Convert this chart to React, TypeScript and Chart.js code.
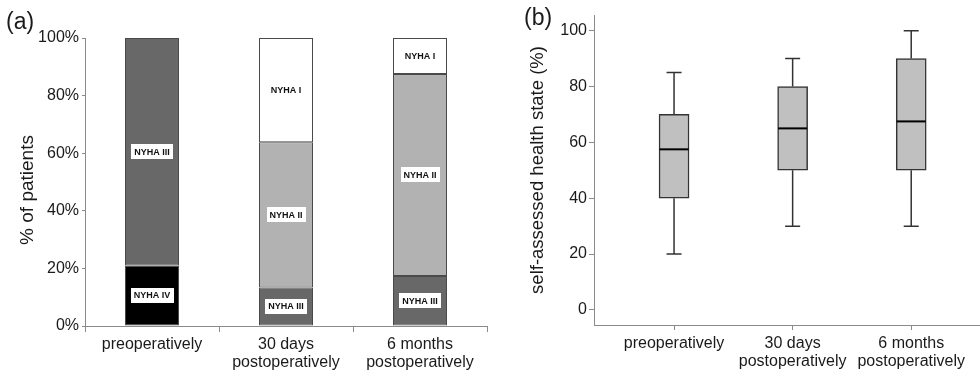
import React, { useEffect, useRef } from 'react';
import { Chart, registerables } from 'chart.js';

Chart.register(...registerables);

const FONT = '"Liberation Sans", Arial, Helvetica, sans-serif';
const TEXT = '#1a1a1a';
const AXIS = '#8a8a8a';

// ---- Panel (a): NYHA class distribution ----
const stageLabels = ['preoperatively', ['30 days', 'postoperatively'], ['6 months', 'postoperatively']];
const nyhaIV = [21, null, null];
const nyhaIII = [79, 13.4, 17.4];
const nyhaII = [null, 50.4, 70.1];
const nyhaI = [null, 36.2, 12.5];
const percentTicks = [0, 20, 40, 60, 80, 100];

// ---- Panel (b): self-assessed health state box plots ----
const boxLabels = ['preoperatively', ['30 days', 'postoperatively'], ['6 months', 'postoperatively']];
const boxMin = [20, 30, 30];
const boxQ1 = [40, 50, 50];
const boxMedian = [57.5, 65, 67.5];
const boxQ3 = [70, 80, 90];
const boxMax = [85, 90, 100];
const healthTicks = [0, 20, 40, 60, 80, 100];

const segmentLabelPlugin = {
  id: 'segmentLabels',
  afterDatasetsDraw(chart: any) {
    const ctx = chart.ctx;
    ctx.save();
    ctx.font = `bold 9px ${FONT}`;
    ctx.textAlign = 'center';
    ctx.textBaseline = 'middle';
    chart.data.datasets.forEach((ds: any, di: number) => {
      const meta = chart.getDatasetMeta(di);
      meta.data.forEach((bar: any, i: number) => {
        const v = ds.data[i];
        if (v == null) return;
        const { x, y, base } = bar.getProps(['x', 'y', 'base'], true);
        const cy = (y + base) / 2;
        const text = ds.label;
        const w = Math.round(ctx.measureText(text).width + 6);
        const h = 15;
        ctx.fillStyle = '#ffffff';
        ctx.fillRect(Math.round(x - w / 2), Math.round(cy - h / 2), w, h);
        ctx.fillStyle = '#111111';
        ctx.fillText(text, x, cy + 0.5);
      });
    });
    ctx.restore();
  },
};

// draws the y-axis title of panel (a) slightly below the axis centre, as in the reference
const leftTitlePlugin = {
  id: 'leftTitle',
  afterDraw(chart: any) {
    const ctx = chart.ctx;
    const area = chart.chartArea;
    ctx.save();
    ctx.font = `19px ${FONT}`;
    ctx.fillStyle = TEXT;
    ctx.textAlign = 'center';
    ctx.textBaseline = 'middle';
    ctx.translate(28, (area.top + area.bottom) / 2 + 8);
    ctx.rotate(-Math.PI / 2);
    ctx.fillText('% of patients', 0, 0);
    ctx.restore();
  },
};

const boxPlotPlugin = {
  id: 'boxWhiskers',
  beforeDatasetsDraw(chart: any) {
    const ctx = chart.ctx;
    const xs = chart.scales.x;
    const ys = chart.scales.y;
    ctx.save();
    ctx.strokeStyle = '#333333';
    ctx.lineWidth = 1.5;
    boxMin.forEach((mn, i) => {
      const x = xs.getPixelForValue(i);
      const capHalf = 7.5;
      const yMin = ys.getPixelForValue(mn);
      const yMax = ys.getPixelForValue(boxMax[i]);
      const yQ1 = ys.getPixelForValue(boxQ1[i]);
      const yQ3 = ys.getPixelForValue(boxQ3[i]);
      ctx.beginPath();
      ctx.moveTo(x, yMax);
      ctx.lineTo(x, yQ3);
      ctx.moveTo(x, yQ1);
      ctx.lineTo(x, yMin);
      ctx.moveTo(x - capHalf, yMax);
      ctx.lineTo(x + capHalf, yMax);
      ctx.moveTo(x - capHalf, yMin);
      ctx.lineTo(x + capHalf, yMin);
      ctx.stroke();
    });
    ctx.restore();
  },
  afterDatasetsDraw(chart: any) {
    const ctx = chart.ctx;
    const xs = chart.scales.x;
    const ys = chart.scales.y;
    ctx.save();
    ctx.strokeStyle = '#000000';
    ctx.lineWidth = 2;
    boxMedian.forEach((md, i) => {
      const x = xs.getPixelForValue(i);
      const y = ys.getPixelForValue(md);
      ctx.beginPath();
      ctx.moveTo(x - 14.5, y);
      ctx.lineTo(x + 14.5, y);
      ctx.stroke();
    });
    ctx.restore();
  },
};

function NyhaChart() {
  const ref = useRef<HTMLCanvasElement>(null);
  useEffect(() => {
    const mk = (label: string, data: (number | null)[], color: string) => ({
      label,
      data,
      backgroundColor: color,
      borderColor: '#4a4a4a',
      borderWidth: 1,
      borderSkipped: false,
      categoryPercentage: 1,
      barPercentage: 0.403,
    });
    const chart = new Chart(ref.current as HTMLCanvasElement, {
      type: 'bar',
      data: {
        labels: stageLabels as any,
        datasets: [
          mk('NYHA IV', nyhaIV, '#000000'),
          mk('NYHA III', nyhaIII, '#686868'),
          mk('NYHA II', nyhaII, '#b2b2b2'),
          mk('NYHA I', nyhaI, '#ffffff'),
        ] as any,
      },
      options: {
        animation: false,
        responsive: false,
        devicePixelRatio: 1,
        layout: { padding: { top: 38, right: 13, bottom: 0, left: 0 } },
        plugins: { legend: { display: false }, tooltip: { enabled: false } },
        scales: {
          x: {
            stacked: true,
            grid: { display: true, drawOnChartArea: false, offset: true, tickLength: 6, color: AXIS },
            border: { display: true, color: AXIS, width: 1 },
            ticks: { font: { family: FONT, size: 16, lineHeight: 1.15 }, color: TEXT, padding: 3, maxRotation: 0, autoSkip: false },
            afterFit: (s: any) => { s.height = 48; },
          },
          y: {
            stacked: true,
            min: 0,
            max: 100,
            afterBuildTicks: (s: any) => { s.ticks = percentTicks.map((v) => ({ value: v })); },
            grid: { display: true, drawOnChartArea: false, tickLength: 3, color: AXIS },
            border: { display: true, color: AXIS, width: 1 },
            ticks: { font: { family: FONT, size: 16 }, color: TEXT, padding: 3, callback: (v: any) => `${v}%` },
            afterFit: (s: any) => { s.width = 85; },
          },
        },
      } as any,
      plugins: [segmentLabelPlugin, leftTitlePlugin],
    });
    return () => chart.destroy();
  }, []);
  return <canvas ref={ref} width={500} height={374} style={{ width: 500, height: 374, display: 'block' }} />;
}

function HealthChart() {
  const ref = useRef<HTMLCanvasElement>(null);
  useEffect(() => {
    const chart = new Chart(ref.current as HTMLCanvasElement, {
      type: 'bar',
      data: {
        datasets: [
          {
            label: 'self-assessed health state',
            data: boxQ1.map((q, i) => ({ x: i, y: [q, boxQ3[i]] })),
            backgroundColor: '#c0c0c0',
            borderColor: '#333333',
            borderWidth: 1.5,
            borderSkipped: false,
            barThickness: 30,
          },
        ] as any,
      },
      options: {
        animation: false,
        responsive: false,
        devicePixelRatio: 1,
        layout: { padding: { top: 15, right: 0, bottom: 0, left: 0 } },
        plugins: { legend: { display: false }, tooltip: { enabled: false } },
        scales: {
          x: {
            type: 'linear',
            offset: false,
            min: -0.675,
            max: 2.58,
            afterBuildTicks: (s: any) => { s.ticks = boxLabels.map((_, i) => ({ value: i })); },
            grid: { display: true, drawOnChartArea: false, offset: false, tickLength: 5, color: AXIS },
            border: { display: true, color: AXIS, width: 1 },
            ticks: {
              font: { family: FONT, size: 16, lineHeight: 1.15 },
              color: TEXT,
              padding: 4,
              maxRotation: 0,
              autoSkip: false,
              callback: (_v: any, idx: number) => boxLabels[idx],
            },
            afterFit: (s: any) => { s.height = 49; },
          },
          y: {
            min: -5.4,
            max: 105.6,
            afterBuildTicks: (s: any) => { s.ticks = healthTicks.map((v) => ({ value: v })); },
            grid: { display: true, drawOnChartArea: false, tickLength: 5, color: AXIS },
            border: { display: true, color: AXIS, width: 1 },
            ticks: { font: { family: FONT, size: 16 }, color: TEXT, padding: 2 },
            title: { display: true, text: 'self-assessed health state (%)', font: { family: FONT, size: 18.5 }, color: TEXT, padding: { top: 27, bottom: 0 } },
            afterFit: (s: any) => { s.width = 94; },
          },
        },
      } as any,
      plugins: [boxPlotPlugin],
    });
    return () => chart.destroy();
  }, []);
  return <canvas ref={ref} width={480} height={374} style={{ width: 480, height: 374, display: 'block' }} />;
}

export default function App() {
  const panelLabel: React.CSSProperties = {
    position: 'absolute',
    fontFamily: FONT,
    fontSize: 23,
    lineHeight: '23px',
    color: TEXT,
    margin: 0,
  };
  return (
    <div style={{ position: 'absolute', left: 0, top: 0, width: 980, height: 374, background: '#ffffff', overflow: 'hidden' }}>
      <div style={{ position: 'absolute', left: 0, top: 0 }}>
        <NyhaChart />
      </div>
      <div style={{ position: 'absolute', left: 500, top: 0 }}>
        <HealthChart />
      </div>
      <div style={{ ...panelLabel, left: 6, top: 10 }}>(a)</div>
      <div style={{ ...panelLabel, left: 524, top: 6 }}>(b)</div>
    </div>
  );
}
